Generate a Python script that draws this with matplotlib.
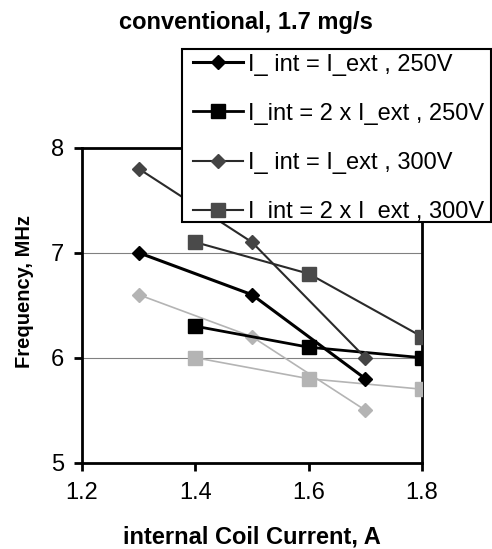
import matplotlib
matplotlib.use("Agg")
import matplotlib.pyplot as plt
from matplotlib.patches import Rectangle

plt.rcParams['font.family'] = ['Liberation Sans', 'DejaVu Sans']

title = "conventional, 1.7 mg/s"
xlabel = "internal Coil Current, A"
ylabel = "Frequency, MHz"

x_a = [1.3, 1.5, 1.7]
x_b = [1.4, 1.6, 1.8]

eq_250 = [7.0, 6.6, 5.8]
dbl_250 = [6.3, 6.1, 6.0]
eq_300 = [7.8, 7.1, 6.0]
dbl_300 = [7.1, 6.8, 6.2]
eq_light = [6.6, 6.2, 5.5]
dbl_light = [6.0, 5.8, 5.7]

labels = ["I_ int = I_ext , 250V", "I_int = 2 x I_ext , 250V",
          "I_ int = I_ext , 300V", "I_int = 2 x I_ext , 300V"]

xticks = [1.2, 1.4, 1.6, 1.8]
yticks = [5, 6, 7, 8]

W, H = 492, 549
fig = plt.figure(figsize=(W / 100, H / 100), dpi=100)
ax = fig.add_axes([82 / W, 1 - 462.7 / H, 340 / W, 315 / H])

ax.set_xlim(1.2, 1.8)
ax.set_ylim(5, 8)
ax.set_xticks(xticks)
ax.set_yticks(yticks)
ax.set_xticklabels([f"{v:.1f}" for v in xticks])
ax.set_yticklabels([str(v) for v in yticks])
ax.yaxis.grid(True, color='#808080', linewidth=0.8)
ax.set_axisbelow(True)
for s in ax.spines.values():
    s.set_linewidth(2)
    s.set_color('black')
ax.tick_params(direction='out', length=6, width=2, labelsize=17)
ax.tick_params(axis='x', pad=8)
ax.tick_params(axis='y', pad=7)

ax.plot(x_a, eq_light, color='#b4b4b4', lw=1.2, marker='D', ms=7.5,
        mfc='#b4b4b4', mec='#b4b4b4', zorder=3)
ax.plot(x_b, dbl_light, color='#b4b4b4', lw=1.2, marker='s', ms=10,
        mfc='#b4b4b4', mec='#b4b4b4', zorder=3)
l1, = ax.plot(x_a, eq_250, color='black', lw=2.2, marker='D', ms=7.5,
              mfc='black', mec='black', zorder=4, label=labels[0])
l2, = ax.plot(x_b, dbl_250, color='black', lw=2, marker='s', ms=10,
              mfc='black', mec='black', zorder=4, label=labels[1])
l3, = ax.plot(x_a, eq_300, color='#2a2a2a', lw=1.5, marker='D', ms=7.5,
              mfc='#444444', mec='#444444', zorder=4, label=labels[2])
l4, = ax.plot(x_b, dbl_300, color='#2a2a2a', lw=1.5, marker='s', ms=10,
              mfc='#4a4a4a', mec='#4a4a4a', zorder=4, label=labels[3])

# legend box
box = Rectangle((182 / W, 1 - 222 / H), (491 - 182) / W, (222 - 49) / H,
                transform=fig.transFigure, facecolor='white', edgecolor='black',
                linewidth=1.5, zorder=9, clip_on=False)
ax.add_patch(box)

leg = ax.legend(handles=[l1, l2, l3, l4], loc='upper left',
                bbox_to_anchor=(193 / W, 1 - 53.5 / H), bbox_transform=fig.transFigure,
                fontsize=17, frameon=False, handlelength=2.12, handletextpad=0.2,
                labelspacing=1.15, borderpad=0, borderaxespad=0)
leg.set_zorder(10)

fig.text(0.5, 1 - 22 / H, title, ha='center', va='center', fontsize=17,
         fontweight='bold')
ax.set_xlabel(xlabel, fontsize=17, fontweight='bold')
ax.xaxis.set_label_coords(0.5, (462.7 - 537) / 315)
ax.xaxis.label.set_verticalalignment('center')
ax.set_ylabel(ylabel, fontsize=14.5, fontweight='bold')
ax.yaxis.set_label_coords((25 - 82) / 340, (462.7 - 291) / 315)
ax.yaxis.label.set_verticalalignment('center')

fig.savefig("out.png", dpi=100)
